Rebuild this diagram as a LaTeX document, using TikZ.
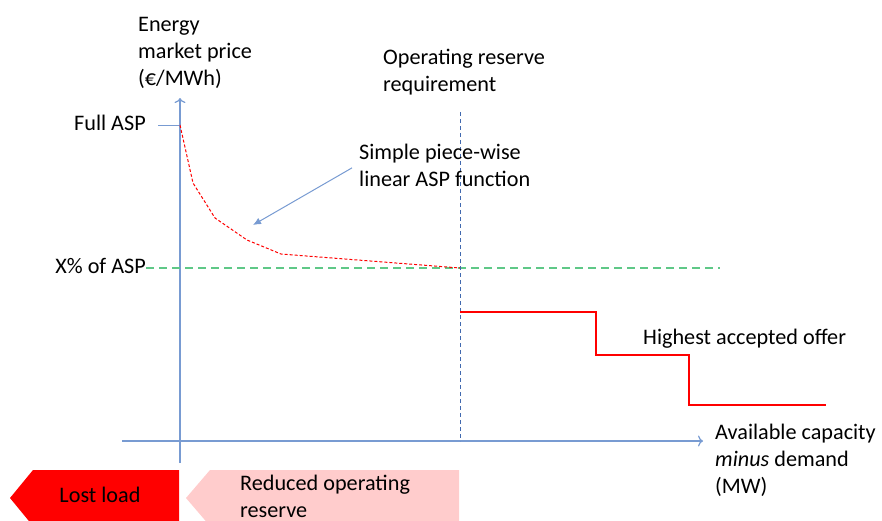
\documentclass[tikz,border=0pt]{standalone}
\usepackage{fontspec}
\setmainfont{Carlito}
\usetikzlibrary{positioning, arrows.meta}
\definecolor{axisblue}{RGB}{120,155,210}
\definecolor{guideblue}{RGB}{65,105,175}
\definecolor{aspgreen}{RGB}{95,200,135}
\definecolor{lossred}{RGB}{255,0,0}
\definecolor{reservepink}{RGB}{255,204,204}

\begin{document}
\begin{tikzpicture}[x=1pt, y=-1pt,
	every node/.style={font=\fontsize{22.2}{27}\selectfont, inner sep=0pt, align=left},
	axis/.style={draw=axisblue, line width=1.2pt, -{To[length=5pt, width=11pt]}},
	pointer/.style={draw=axisblue, line width=1pt, -{Latex[length=8pt, width=7pt]}},
	aspcurve/.style={draw=lossred, line width=1pt, dash pattern=on 3pt off 2pt},
	offerstep/.style={draw=lossred, line width=1.2pt},
	xline/.style={draw=aspgreen, line width=1.3pt, dash pattern=on 8pt off 5pt},
	reqline/.style={draw=guideblue, line width=0.8pt, dash pattern=on 4pt off 3pt}]
	\clip (0,0) rectangle (882,520);
	% axes
	\coordinate (ybot) at (180,463);
	\coordinate (ytop) at (180,98);
	\coordinate (xleft) at (122,441);
	\coordinate (xright) at (703,441);
	\draw[axis] (ybot) -- (ytop);
	\draw[axis] (xleft) -- (xright);
	\node[anchor=base west] (price) at (138,85) {Energy\\market price\\(€/MWh)};
	\node[anchor=base west] (capacity) at (715,493) {Available capacity\\\textit{minus} demand\\(MW)};
	% price levels
	\node[anchor=base east] (fullasp) at (146,130) {Full ASP};
	\node[anchor=base east] (xasp) at (146,273) {X\% of ASP};
	\coordinate (fulltick) at (180,125);
	\draw[draw=axisblue, line width=1pt] ([xshift=12pt]fullasp.east |- fulltick) -- (fulltick);
	\coordinate (xend) at (720,268);
	\draw[xline] (xasp.east |- xend) -- (xend);
	% reserve requirement
	\node[anchor=base west] (requirement) at (383,91) {Operating reserve\\requirement};
	\coordinate (reqtop) at (460,112);
	\coordinate (reqbot) at (460,441);
	\draw[reqline] (reqtop) -- (reqbot);
	% ASP function
	\draw[aspcurve] (fulltick) -- (193,183) -- (215,218) -- (247,240) -- (281,254) -- (460,268);
	\node[anchor=base west] (simple) at (359,186) {Simple piece-wise\\linear ASP function};
	\coordinate (curvept) at (253,225);
	\draw[pointer] ([xshift=-7pt, yshift=-3pt]simple.west) -- (curvept);
	% offer curve
	\draw[offerstep] (460,312) -- (596,312) -- (596,355) -- (689,355) -- (689,405) -- (826,405);
	\node[anchor=base west] (highest) at (643,344) {Highest accepted offer};
	% regions
	\fill[lossred] (179,470) -- (33,470) -- (10,498) -- (33,526) -- (179,526) -- cycle;
	\fill[reservepink] (459,470) -- (210,470) -- (186,498) -- (210,526) -- (459,526) -- cycle;
	\node[anchor=base] (lost) at (100,502) {Lost load};
	\node[anchor=base west] (reduced) at (240,517) {Reduced operating\\reserve};
\end{tikzpicture}
\end{document}
